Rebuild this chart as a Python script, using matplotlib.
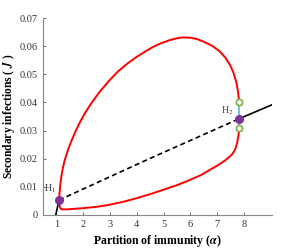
import matplotlib.pyplot as plt

plt.rcParams['font.family'] = ['Liberation Serif', 'DejaVu Serif']
plt.rcParams['mathtext.fontset'] = 'stix'

# upper branch of the red loop (alpha, J)
upper_x = [1.10, 1.12, 1.15, 1.19, 1.24, 1.30, 1.38, 1.47, 1.58, 1.73, 1.90, 2.10, 2.35, 2.62,
           2.95, 3.30, 3.65, 3.97, 4.30, 4.60, 4.90, 5.22, 5.50, 5.72, 6.00, 6.25, 6.47, 6.80,
           7.09, 7.30, 7.47, 7.60, 7.72, 7.78, 7.82]
upper_y = [0.0053, 0.0078, 0.0108, 0.0138, 0.0165, 0.0190, 0.0215, 0.0240, 0.0267, 0.0300,
           0.0333, 0.0367, 0.0403, 0.0438, 0.0475, 0.0510, 0.0538, 0.0560, 0.0580, 0.0597,
           0.0610, 0.0621, 0.0628, 0.0631, 0.0630, 0.0625, 0.0617, 0.0602, 0.0582, 0.0560,
           0.0535, 0.0508, 0.0470, 0.0437, 0.0403]

# lower branch of the red loop
lower_x = [1.10, 1.11, 1.13, 1.16, 1.22, 1.40, 1.97, 2.50, 2.97, 3.50, 3.97, 4.50, 4.97, 5.50,
           5.97, 6.40, 6.72, 7.05, 7.30, 7.45, 7.58, 7.68, 7.75, 7.80, 7.82]
lower_y = [0.0053, 0.0040, 0.0029, 0.0023, 0.0020, 0.0020, 0.0024, 0.0029, 0.0036, 0.0047,
           0.0059, 0.0074, 0.0089, 0.0106, 0.0124, 0.0142, 0.0160, 0.0178, 0.0194, 0.0206,
           0.0218, 0.0235, 0.0258, 0.0285, 0.0310]

# unstable (dashed) and stable (solid) equilibrium
dash_x = [1.10, 4.47, 7.82]
dash_y = [0.0053, 0.0200, 0.0342]
stable_left_x = [0.98, 1.10]
stable_left_y = [0.0, 0.0053]
stable_right_x = [7.82, 9.03]
stable_right_y = [0.0342, 0.0391]

# Hopf points and limit-cycle extremes
hopf_x = [1.10, 7.82]
hopf_y = [0.0053, 0.0342]
cycle_x = [7.82, 7.82]
cycle_y = [0.0310, 0.0403]

fig = plt.figure(figsize=(3, 2.5), dpi=100)
ax = fig.add_axes([0.143, 0.14, 0.764, 0.788])

ax.plot(upper_x, upper_y, color='red', lw=1.4)
ax.plot(lower_x, lower_y, color='red', lw=1.4)
ax.plot(dash_x, dash_y, color='black', lw=1.2, ls=(0, (3, 2)))
ax.plot(stable_left_x, stable_left_y, color='black', lw=1.2)
ax.plot(stable_right_x, stable_right_y, color='black', lw=1.2)
ax.plot(cycle_x, cycle_y, color='#55b8e0', lw=1.2)
ax.plot(cycle_x, cycle_y, 'o', ms=4.5, mfc='white', mec='#7ab342', mew=1.2)
ax.plot(hopf_x, hopf_y, 'o', ms=5.5, color='#7b3294')

ax.text(1.0, 0.0085, 'H$_1$', fontsize=7, color='#333333', ha='right', va='baseline')
ax.text(7.62, 0.0362, 'H$_2$', fontsize=7, color='#444444', ha='right', va='baseline')

ax.set_xlim(0.5, 9.05)
ax.set_ylim(0, 0.07)
ax.set_xticks([1, 2, 3, 4, 5, 6, 7, 8])
ax.set_yticks([0, 0.01, 0.02, 0.03, 0.04, 0.05, 0.06, 0.07])
ax.set_yticklabels(['0', '0.01', '0.02', '0.03', '0.04', '0.05', '0.06', '0.07'])
ax.tick_params(direction='in', length=2.5, width=0.6, colors='#555555', labelsize=7.5,
               labelcolor='#333333')
for s in ['top', 'right']:
    ax.spines[s].set_visible(False)
for s in ['left', 'bottom']:
    ax.spines[s].set_color('#888888')
    ax.spines[s].set_linewidth(0.8)

ax.set_xlabel(r'Partition of immunity ($\mathbfit{\alpha}$)', fontsize=8.5, fontweight='bold',
              labelpad=3)
ax.set_ylabel(r'Secondary infections ( $\mathbfit{J}$ )', fontsize=8.3, fontweight='bold',
              labelpad=2)

fig.savefig('out.png', dpi=100)
